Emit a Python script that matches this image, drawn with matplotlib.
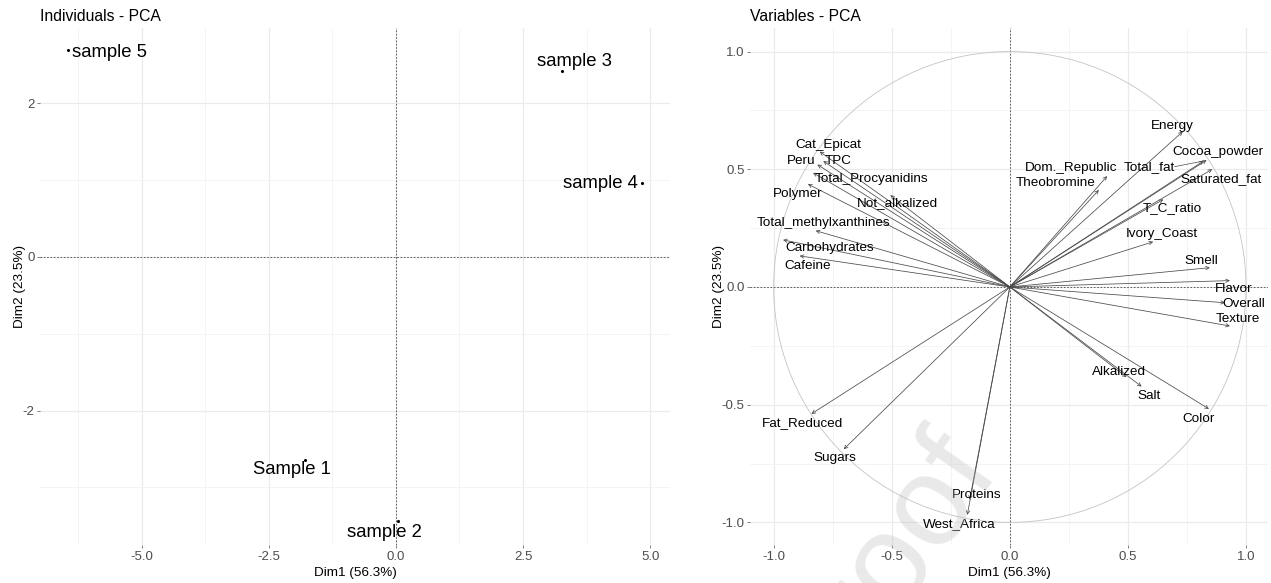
import numpy as np
import matplotlib.pyplot as plt
from matplotlib.patches import Circle

plt.rcParams['font.family'] = ['Liberation Sans', 'DejaVu Sans']

# individuals (Dim1, Dim2) and where their labels ended up
ind_names = ["Sample 1", "sample 2", "sample 3", "sample 4", "sample 5"]
ind_x = [-1.79, 0.04, 3.27, 4.84, -6.44]
ind_y = [-2.64, -3.44, 2.42, 0.96, 2.70]
ind_lab_x = [-2.05, -0.22, 3.52, 4.02, -5.63]
ind_lab_y = [-2.77, -3.59, 2.54, 0.96, 2.66]

# variables (correlation circle)
var_names = ["Cat_Epicat", "Peru", "TPC", "Total_Procyanidins", "Polymer",
             "Not_alkalized", "Total_methylxanthines", "Carbohydrates", "Cafeine",
             "Energy", "Cocoa_powder", "Total_fat", "Saturated_fat", "Dom._Republic",
             "Theobromine", "T_C_ratio", "Ivory_Coast", "Smell", "Flavor", "Overall",
             "Texture", "Alkalized", "Salt", "Color", "Fat_Reduced", "Sugars",
             "Proteins", "West_Africa"]
var_x = [-0.805, -0.815, -0.790, -0.833, -0.855, -0.506, -0.822, -0.960, -0.890,
         0.732, 0.833, 0.820, 0.857, 0.412, 0.377, 0.650, 0.607, 0.847, 0.932, 0.911,
         0.932, 0.494, 0.558, 0.843, -0.840, -0.703, -0.170, -0.180]
var_y = [0.575, 0.520, 0.535, 0.485, 0.437, 0.390, 0.239, 0.200, 0.132,
         0.660, 0.539, 0.535, 0.500, 0.471, 0.412, 0.372, 0.192, 0.082, 0.027, -0.067,
         -0.166, -0.383, -0.423, -0.518, -0.539, -0.689, -0.904, -0.968]
var_lab_x = [-0.770, -0.883, -0.729, -0.586, -0.898, -0.475, -0.788, -0.763, -0.856,
             0.686, 0.881, 0.589, 0.893, 0.258, 0.194, 0.688, 0.643, 0.812, 0.946, 0.989,
             0.967, 0.462, 0.589, 0.801, -0.878, -0.742, -0.141, -0.216]
var_lab_y = [0.603, 0.536, 0.536, 0.459, 0.395, 0.357, 0.272, 0.166, 0.090,
             0.684, 0.575, 0.511, 0.457, 0.507, 0.443, 0.334, 0.225, 0.112, -0.008, -0.072,
             -0.136, -0.360, -0.462, -0.562, -0.579, -0.727, -0.883, -1.006]
seg_names = ["Total_fat"]   # labels that ggrepel pushed away far enough to get a segment

W, H = 1271, 583
fig = plt.figure(figsize=(W / 100, H / 100), dpi=100)

def px_axes(left, top, right, bottom):
	return fig.add_axes([left / W, 1 - bottom / H, (right - left) / W, (bottom - top) / H])

def minimal_theme(ax, xmaj, xmin, ymaj, ymin):
	for s in ax.spines.values():
		s.set_visible(False)
	ax.set_xticks(xmaj)
	ax.set_yticks(ymaj)
	ax.set_xticks(xmin, minor=True)
	ax.set_yticks(ymin, minor=True)
	ax.grid(True, which='major', color='#ebebeb', lw=0.9)
	ax.grid(True, which='minor', color='#f2f2f2', lw=0.6)
	ax.tick_params(which='major', length=2, width=0.5, color='#4d4d4d', pad=2,
		labelsize=9.5, labelcolor='#4d4d4d')
	ax.tick_params(which='minor', length=0)
	ax.set_axisbelow(True)
	ax.axhline(0, color='#444444', lw=0.6, dashes=(2, 2), zorder=1)
	ax.axvline(0, color='#444444', lw=0.6, dashes=(2, 2), zorder=1)

# ---------- Individuals
ax1 = px_axes(40, 28, 670, 545)
ax1.set_xlim(-7.0, 5.39)
ax1.set_ylim(-3.75, 2.98)
minimal_theme(ax1, [-5, -2.5, 0, 2.5, 5], [-6.25, -3.75, -1.25, 1.25, 3.75],
	[-2, 0, 2], [-3, -1, 1])
ax1.set_xticklabels(["-5.0", "-2.5", "0.0", "2.5", "5.0"])
ax1.set_yticklabels(["-2", "0", "2"])
ax1.scatter(ind_x, ind_y, s=1.5, color='black', zorder=3)
for n, lx, ly in zip(ind_names, ind_lab_x, ind_lab_y):
	ax1.text(lx, ly, n, fontsize=13.3, ha='center', va='center', color='black', zorder=4)
ax1.set_title("Individuals - PCA", loc='left', fontsize=11.3, pad=5)
ax1.set_xlabel("Dim1 (56.3%)", fontsize=9.7, labelpad=3)
ax1.set_ylabel("Dim2 (23.5%)", fontsize=9.7, labelpad=-2.5)

# ---------- Variables
ax2 = px_axes(750, 28, 1268, 545)
ax2.set_xlim(-1.10, 1.093)
ax2.set_ylim(-1.096, 1.10)
minimal_theme(ax2, [-1, -0.5, 0, 0.5, 1], [-0.75, -0.25, 0.25, 0.75],
	[-1, -0.5, 0, 0.5, 1], [-0.75, -0.25, 0.25, 0.75])
ax2.set_xticklabels(["-1.0", "-0.5", "0.0", "0.5", "1.0"])
ax2.set_yticklabels(["-1.0", "-0.5", "0.0", "0.5", "1.0"])
ax2.add_patch(Circle((0, 0), 1, fill=False, color='#c4c4c4', lw=0.6, zorder=1))
for vx, vy in zip(var_x, var_y):
	ax2.annotate('', xy=(vx, vy), xytext=(0, 0),
		arrowprops=dict(arrowstyle='->', color='#4a4a4a', lw=0.55,
			shrinkA=0, shrinkB=0, mutation_scale=6), zorder=2)
texts = {}
for n, lx, ly in zip(var_names, var_lab_x, var_lab_y):
	texts[n] = ax2.text(lx, ly, n, fontsize=9.7, ha='center', va='center', color='black', zorder=4)
ax2.set_title("Variables - PCA", loc='left', fontsize=11.3, pad=5)
ax2.set_xlabel("Dim1 (56.3%)", fontsize=9.7, labelpad=3)
ax2.set_ylabel("Dim2 (23.5%)", fontsize=9.7, labelpad=-2.5)

# repel segments from label edge to the arrow tip
fig.canvas.draw()
rend = fig.canvas.get_renderer()
for n in seg_names:
	i = var_names.index(n)
	bb = texts[n].get_window_extent(rend).transformed(ax2.transData.inverted())
	ax2.plot([bb.x1, var_x[i]], [(bb.y0 + bb.y1) / 2, var_y[i]], color='#4a4a4a', lw=0.5, zorder=2)

# watermark
fig.text(882 / W, 1 - 568 / H, "Proof", fontsize=92, color='#b8b8b8', alpha=0.3,
	rotation=55, ha='center', va='center', zorder=10)

plt.savefig("out.png", dpi=100)
